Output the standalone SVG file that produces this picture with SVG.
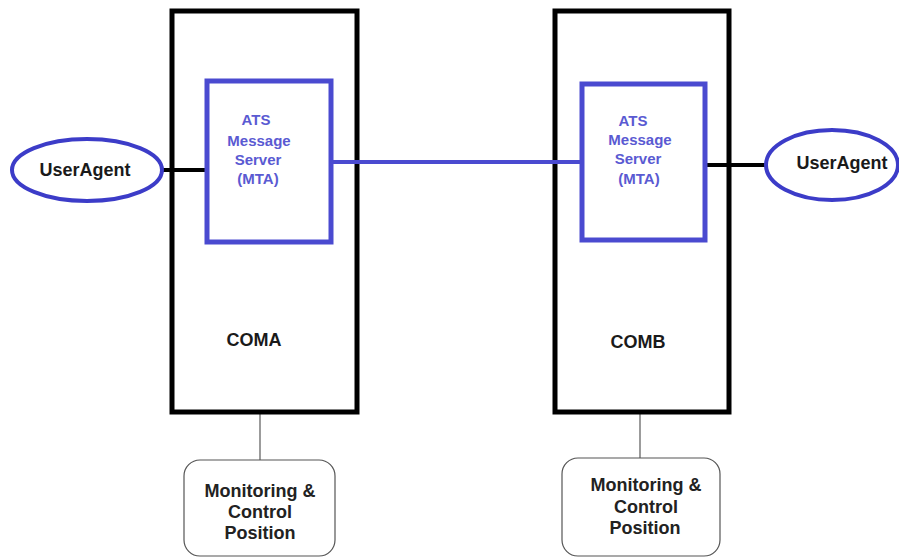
<svg xmlns="http://www.w3.org/2000/svg" width="899" height="557" viewBox="0 0 899 557">
<style>
.com{fill:#fff;stroke:#000;stroke-width:5}
.mta{fill:#fff;stroke:#4a4ad0;stroke-width:5}
.ua{fill:#fff;stroke:#3c3cc8;stroke-width:4}
.mc{fill:#fff;stroke:#555;stroke-width:1.2}
.bt{font-family:"Liberation Sans",Arial,sans-serif;font-weight:bold;text-anchor:middle;dominant-baseline:central}
.blue{fill:#5a5ad2;font-size:15px}
.blk{fill:#1a1a1a;font-size:18px}
.lbl{fill:#222;font-size:18px}
</style>
<rect width="899" height="557" fill="#fff"/>
<g id="connectors">
<line x1="260" y1="414" x2="260" y2="460" stroke="#666" stroke-width="1.3"/>
<line x1="640" y1="414" x2="640" y2="458" stroke="#666" stroke-width="1.3"/>
</g>
<g id="coma">
<rect class="com" x="172" y="11" width="185" height="401"/>
<text class="bt blk" x="254" y="340">COMA</text>
</g>
<g id="comb">
<rect class="com" x="555" y="11" width="174" height="401"/>
<text class="bt blk" x="638" y="342">COMB</text>
</g>
<g id="links">
<line x1="331" y1="162" x2="582" y2="162" stroke="#4a4ad0" stroke-width="4"/>
<line x1="160" y1="170" x2="210" y2="170" stroke="#000" stroke-width="4"/>
<line x1="705" y1="165" x2="768" y2="165" stroke="#000" stroke-width="4"/>
</g>
<g id="mta-a">
<rect class="mta" x="207" y="81" width="124" height="161"/>
<text class="bt blue" x="256" y="119">ATS</text>
<text class="bt blue" x="259" y="140">Message</text>
<text class="bt blue" x="258" y="159">Server</text>
<text class="bt blue" x="258" y="178">(MTA)</text>
</g>
<g id="mta-b">
<rect class="mta" x="582" y="84" width="123" height="156"/>
<text class="bt blue" x="633" y="120">ATS</text>
<text class="bt blue" x="640" y="139">Message</text>
<text class="bt blue" x="638" y="158">Server</text>
<text class="bt blue" x="639" y="178">(MTA)</text>
</g>
<g id="ua-left">
<ellipse class="ua" cx="87" cy="170" rx="75" ry="31"/>
<text class="bt blk" x="85" y="170">UserAgent</text>
</g>
<g id="ua-right">
<ellipse class="ua" cx="832" cy="165" rx="66" ry="35"/>
<text class="bt blk" x="842" y="163">UserAgent</text>
</g>
<g id="mc-a">
<rect class="mc" x="184" y="460" width="151" height="96" rx="16"/>
<text class="bt lbl" x="260" y="491">Monitoring &amp;</text>
<text class="bt lbl" x="260" y="512">Control</text>
<text class="bt lbl" x="260" y="533">Position</text>
</g>
<g id="mc-b">
<rect class="mc" x="562" y="458" width="158" height="98" rx="16"/>
<text class="bt lbl" x="646" y="485">Monitoring &amp;</text>
<text class="bt lbl" x="646" y="507">Control</text>
<text class="bt lbl" x="645" y="528">Position</text>
</g>
</svg>
